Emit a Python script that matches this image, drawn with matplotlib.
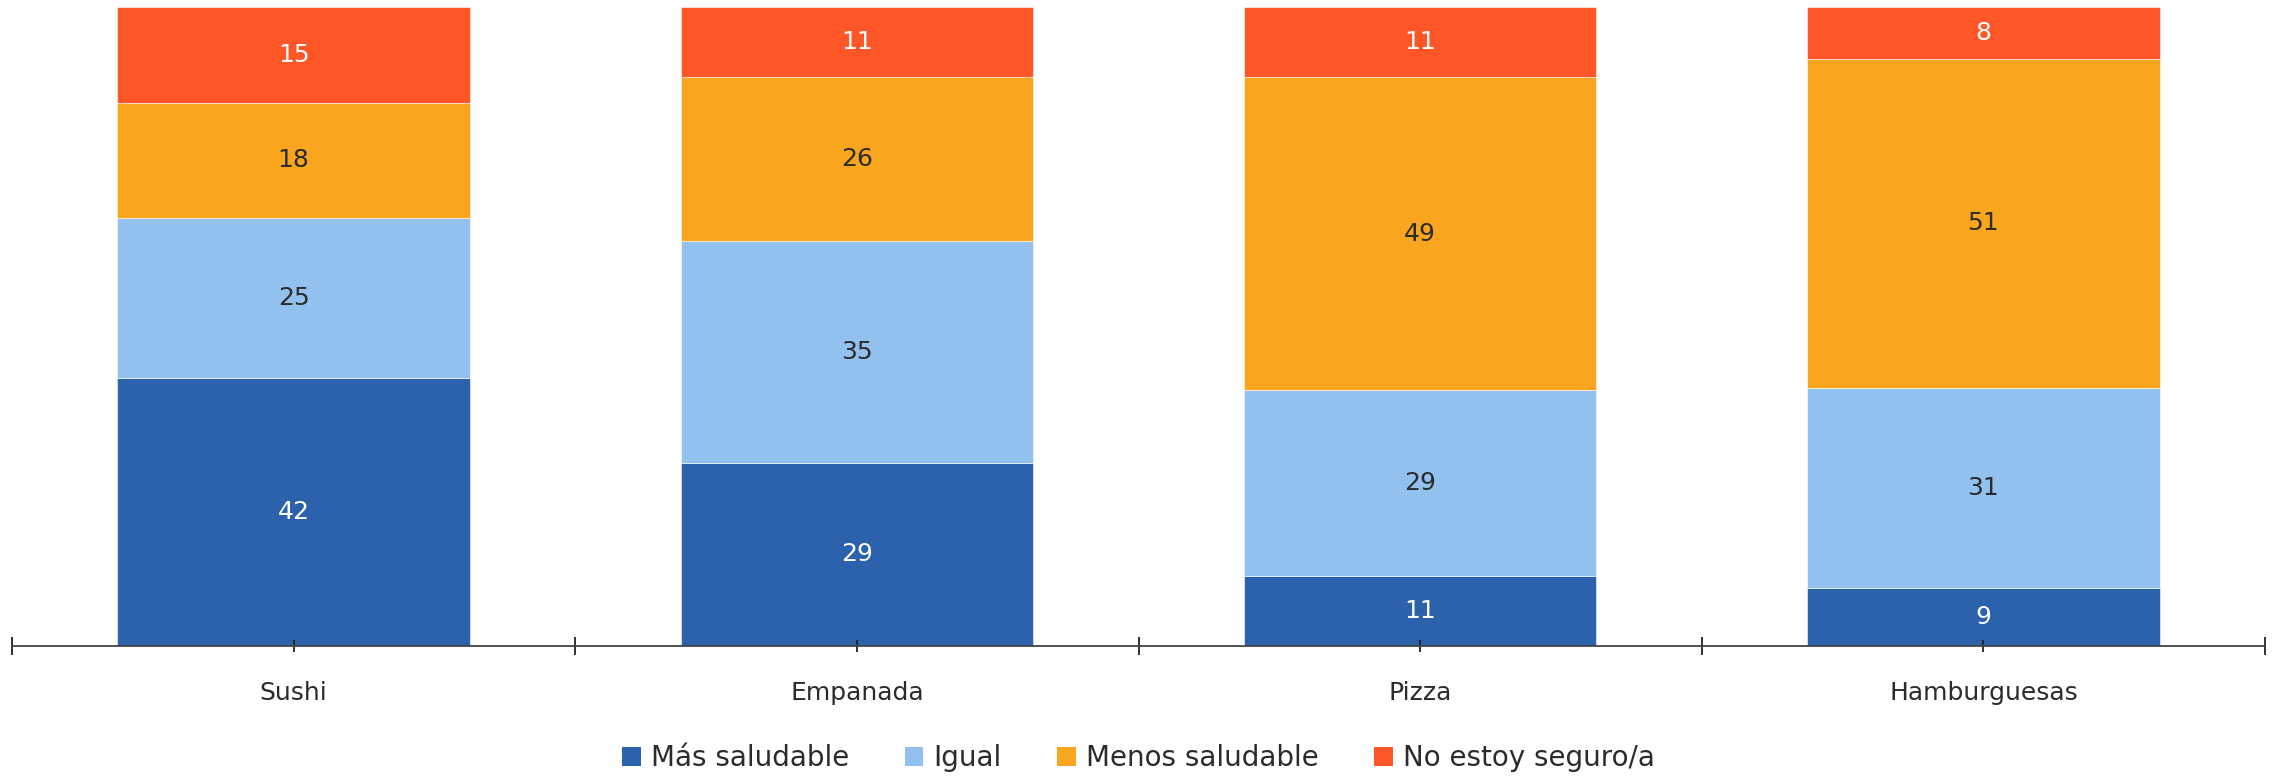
import numpy as np
import matplotlib

matplotlib.use("Agg")
import matplotlib.pyplot as plt
from matplotlib.patches import Patch

plt.rcParams["font.family"] = ["DejaVu Sans"]

FOODS = ["Sushi", "Empanada", "Pizza", "Hamburguesas"]
SERIES = ["Más saludable", "Igual", "Menos saludable", "No estoy seguro/a"]
MAS_SALUDABLE = [42, 29, 11, 9]
IGUAL = [25, 35, 29, 31]
MENOS_SALUDABLE = [18, 26, 49, 51]
NO_SEGURO = [15, 11, 11, 8]

COLORS = ["#2b62ab", "#92c1f0", "#f9a51e", "#ff5627"]
LABEL_COLORS = ["white", "#2b2b2b", "#2b2b2b", "white"]
TEXT = "#2b2b2b"


def main():
    values = np.array([MAS_SALUDABLE, IGUAL, MENOS_SALUDABLE, NO_SEGURO], dtype=float)
    # each bar is scaled to 100%
    shares = values / values.sum(axis=0) * 100

    fig = plt.figure(figsize=(22.77, 7.77), dpi=100)
    ax = fig.add_axes([12 / 2277, 1 - 646 / 777, 2253 / 2277, 639 / 777])

    x = np.arange(len(FOODS))
    bottom = np.zeros(len(FOODS))
    for k in range(len(SERIES)):
        ax.bar(x, shares[k], 0.626, bottom=bottom, color=COLORS[k],
               edgecolor="white", linewidth=0.4)
        for i in range(len(FOODS)):
            ax.text(x[i], bottom[i] + shares[k, i] / 2, f"{values[k, i]:.0f}",
                    ha="center", va="center", fontsize=18,
                    color=LABEL_COLORS[k])
        bottom += shares[k]

    ax.set_xlim(-0.5, len(FOODS) - 0.5)
    ax.set_ylim(0, 100)
    for side in ["left", "right", "top"]:
        ax.spines[side].set_visible(False)
    ax.spines["bottom"].set_color("#444444")
    ax.spines["bottom"].set_linewidth(1.3)
    ax.set_yticks([])

    ax.set_xticks(x)
    ax.set_xticklabels(FOODS, fontsize=18, color=TEXT)
    ax.set_xticks(np.arange(-0.5, len(FOODS)), minor=True)
    ax.tick_params(axis="x", which="major", direction="inout", length=9,
                   width=1.3, color="#222222", pad=21)
    ax.tick_params(axis="x", which="minor", direction="inout", length=12.5,
                   width=1.3, color="#222222")

    handles = [Patch(facecolor=c, label=s) for c, s in zip(COLORS, SERIES)]
    fig.legend(handles=handles, loc="center", bbox_to_anchor=(0.5, 1 - 758 / 777),
               ncol=4, frameon=False, fontsize=20, handlelength=0.68,
               handleheight=0.68, handletextpad=0.36, columnspacing=2.0,
               labelcolor=TEXT)

    fig.savefig("out.png", dpi=100)


if __name__ == "__main__":
    main()
